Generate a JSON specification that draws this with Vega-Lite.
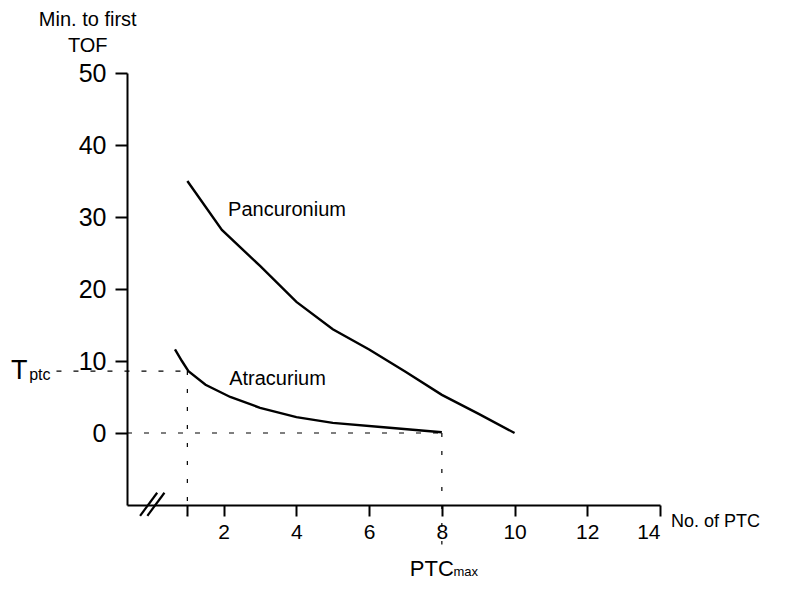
{
  "$schema": "https://vega.github.io/schema/vega-lite/v6.json",
  "width": 533,
  "height": 432,
  "autosize": "none",
  "padding": {"left": 127, "top": 73, "right": 135, "bottom": 100},
  "background": "white",
  "config": {"view": {"stroke": null}, "font": "Liberation Sans"},
  "datasets": {
    "curves": [
      {"drug": "Pancuronium", "x": 1.0, "y": 35.0},
      {"drug": "Pancuronium", "x": 1.95, "y": 28.2},
      {"drug": "Pancuronium", "x": 3.0, "y": 23.2},
      {"drug": "Pancuronium", "x": 4.0, "y": 18.2},
      {"drug": "Pancuronium", "x": 5.0, "y": 14.4},
      {"drug": "Pancuronium", "x": 6.0, "y": 11.6},
      {"drug": "Pancuronium", "x": 7.0, "y": 8.5},
      {"drug": "Pancuronium", "x": 8.0, "y": 5.3},
      {"drug": "Pancuronium", "x": 9.0, "y": 2.7},
      {"drug": "Pancuronium", "x": 10.0, "y": 0.0},
      {"drug": "Atracurium", "x": 0.66, "y": 11.6},
      {"drug": "Atracurium", "x": 0.85, "y": 10.0},
      {"drug": "Atracurium", "x": 1.03, "y": 8.6},
      {"drug": "Atracurium", "x": 1.5, "y": 6.7},
      {"drug": "Atracurium", "x": 2.18, "y": 5.0},
      {"drug": "Atracurium", "x": 3.0, "y": 3.5},
      {"drug": "Atracurium", "x": 4.0, "y": 2.2},
      {"drug": "Atracurium", "x": 5.0, "y": 1.4},
      {"drug": "Atracurium", "x": 6.4, "y": 0.8},
      {"drug": "Atracurium", "x": 8.0, "y": 0.1}
    ],
    "hguides": [
      {"x": -2.6, "x2": 1.0, "y": 8.6},
      {"x": -0.66, "x2": 8.0, "y": 0}
    ],
    "vguides": [
      {"x": 1.0, "y": 8.6, "y2": -11.5},
      {"x": 8.0, "y": 0, "y2": -15.5}
    ],
    "breaks": [
      {"x": -0.3, "x2": 0.17, "y": -11.5, "y2": -8.3},
      {"x": -0.1, "x2": 0.37, "y": -11.5, "y2": -8.3}
    ],
    "leftlabels": [
      {"text": "Pancuronium", "x": 2.12, "y": 31.0, "size": 20},
      {"text": "Atracurium", "x": 2.15, "y": 7.5, "size": 20},
      {"text": "No. of PTC", "x": 14.3, "y": -12.3, "size": 18},
      {"text": "T", "x": -3.85, "y": 8.6, "size": 27},
      {"text": "ptc", "x": -3.35, "y": 8.0, "size": 16},
      {"text": "PTC", "x": 7.12, "y": -18.9, "size": 22},
      {"text": "max", "x": 8.32, "y": -19.3, "size": 13}
    ],
    "titlelines": [
      {"text": "Min. to first", "x": -1.74, "y": 57.3, "size": 20},
      {"text": "TOF", "x": -1.74, "y": 53.7, "size": 20}
    ]
  },
  "layer": [
    {
      "data": {"name": "hguides"},
      "mark": {"type": "rule", "strokeDash": [5, 12], "strokeWidth": 1.2, "color": "black", "clip": false},
      "encoding": {
        "x": {"field": "x", "type": "quantitative", "scale": {"domain": [-0.66, 14], "nice": false, "zero": false}, "axis": {"values": [1, 2, 4, 6, 8, 10, 12, 14], "labelExpr": "datum.value == 1 ? '' : datum.label", "title": null, "grid": false, "domainColor": "black", "domainWidth": 2, "tickColor": "black", "tickWidth": 2, "tickSize": 11, "labelColor": "black", "labelFontSize": 21, "labelPadding": 5, "labelFont": "Liberation Sans"}},
        "x2": {"field": "x2"},
        "y": {"field": "y", "type": "quantitative", "scale": {"domain": [-10, 50], "nice": false, "zero": false}, "axis": {"values": [0, 10, 20, 30, 40, 50], "title": null, "grid": false, "domainColor": "black", "domainWidth": 2, "tickColor": "black", "tickWidth": 2, "tickSize": 12, "labelColor": "black", "labelFontSize": 25, "labelPadding": 9, "labelFont": "Liberation Sans"}}
      }
    },
    {
      "data": {"name": "vguides"},
      "mark": {"type": "rule", "strokeDash": [4, 14], "strokeWidth": 1.2, "color": "black", "clip": false},
      "encoding": {
        "x": {"field": "x", "type": "quantitative"},
        "y": {"field": "y", "type": "quantitative"},
        "y2": {"field": "y2"}
      }
    },
    {
      "data": {"name": "breaks"},
      "mark": {"type": "rule", "strokeWidth": 2.2, "color": "black", "clip": false},
      "encoding": {
        "x": {"field": "x", "type": "quantitative"},
        "x2": {"field": "x2"},
        "y": {"field": "y", "type": "quantitative"},
        "y2": {"field": "y2"}
      }
    },
    {
      "data": {"name": "curves"},
      "mark": {"type": "line", "strokeWidth": 2.4, "color": "black", "interpolate": "linear"},
      "encoding": {
        "x": {"field": "x", "type": "quantitative"},
        "y": {"field": "y", "type": "quantitative"},
        "detail": {"field": "drug"}
      }
    },
    {
      "data": {"name": "leftlabels"},
      "mark": {"type": "text", "color": "black", "baseline": "middle", "align": "left", "clip": false},
      "encoding": {
        "x": {"field": "x", "type": "quantitative"},
        "y": {"field": "y", "type": "quantitative"},
        "text": {"field": "text"},
        "size": {"field": "size", "type": "quantitative", "scale": null}
      }
    },
    {
      "data": {"name": "titlelines"},
      "mark": {"type": "text", "color": "black", "baseline": "middle", "align": "center", "clip": false},
      "encoding": {
        "x": {"field": "x", "type": "quantitative"},
        "y": {"field": "y", "type": "quantitative"},
        "text": {"field": "text"},
        "size": {"field": "size", "type": "quantitative", "scale": null}
      }
    }
  ]
}
